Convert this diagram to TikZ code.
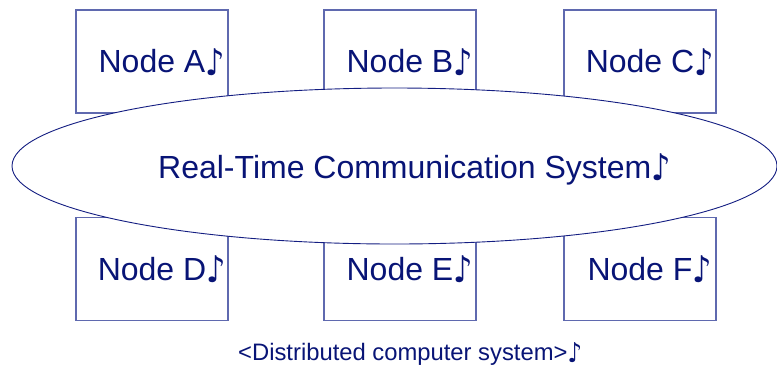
\documentclass[tikz,border=0pt]{standalone}
\usepackage{fontspec}
\usepackage{graphicx}
\setmainfont{Liberation Sans}
\newfontfamily\notefont{DejaVu Sans}
\usetikzlibrary{shapes.geometric}
\definecolor{navytext}{RGB}{8,20,118}
\definecolor{boxline}{RGB}{95,105,175}
\definecolor{ringline}{RGB}{20,30,130}
\newcommand{\mynote}{\raisebox{-0.09em}{\scalebox{0.95}[1.15]{\notefont ♪}}}
\begin{document}
\begin{tikzpicture}[x=1pt,y=-1pt,
  nodebox/.style={draw=boxline, line width=1.1pt, minimum width=152pt, minimum height=103pt,
    inner sep=0pt, text height=22pt, text depth=0pt,
    font=\fontsize{32}{32}\selectfont, text=navytext},
  ringshape/.style={ellipse, draw=ringline, line width=0.9pt, fill=white,
    minimum width=765pt, minimum height=156pt, inner sep=0pt},
  bigtext/.style={anchor=base west, inner sep=0pt, text=navytext, font=\fontsize{32}{32}\selectfont},
  smalltext/.style={anchor=base west, inner sep=0pt, text=navytext, font=\fontsize{23.8}{23.8}\selectfont}
]
\useasboundingbox (0,0) rectangle (777,368);
\node[nodebox] (A) at (152,61.5) {Node A\rlap{\mynote}};
\node[nodebox] (B) at (400,61.5) {Node B\rlap{\mynote}};
\node[nodebox] (C) at (640,61.5) {Node C\rlap{\mynote}};
\node[nodebox] (D) at (152,269) {Node D\rlap{\mynote}};
\node[nodebox] (E) at (400,269) {Node E\rlap{\mynote}};
\node[nodebox] (F) at (640,269) {Node F\rlap{\mynote}};
\node[ringshape] (ring) at (394.5,166) {};
\node[bigtext] (ringlabel) at (158,178) {Real-Time Communication System\mynote};
\node[smalltext] (caption) at (238,360) {<Distributed computer system>\mynote};
\end{tikzpicture}
\end{document}
